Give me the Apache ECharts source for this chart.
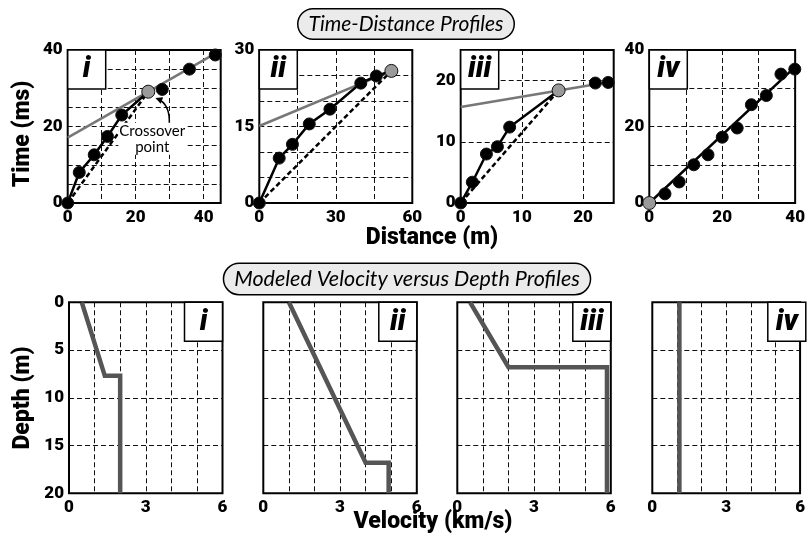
<!DOCTYPE html>
<html>
<head>
<meta charset="utf-8">
<script src="https://cdn.jsdelivr.net/npm/echarts@6/dist/echarts.min.js"></script>
<style>
  html, body { margin: 0; background: #fff; }
  #chart { width: 808px; height: 539px; }
</style>
</head>
<body>
<div id="chart"></div>
<script>
// ---- time-distance picks (distance in m, time in ms) ----
// panel i
var distI = [0, 3.4, 7.8, 11.7, 15.9];
var timeI = [0, 8.0, 12.6, 17.4, 23.0];
var distIRefr = [27.8, 35.8, 43.4];
var timeIRefr = [29.7, 35.0, 38.7];
var crossI = [23.7, 29.1];
var headDistI = [0, 44];
var headTimeI = [17.1, 39.4];
// panel ii
var distII = [0, 7.8, 13.0, 19.6, 27.7, 39.8, 45.9];
var timeII = [0, 8.8, 11.5, 15.5, 18.4, 23.5, 24.9];
var crossII = [51.8, 25.9];
var headDistII = [0, 51.8];
var headTimeII = [15.1, 25.9];
// panel iii
var distIII = [0, 1.9, 4.2, 6.0, 8.0];
var timeIII = [0, 3.4, 8.0, 9.2, 12.4];
var distIIIRefr = [22.0, 24.1];
var timeIIIRefr = [19.6, 19.7];
var crossIII = [16.0, 18.4];
var headDistIII = [0, 25];
var headTimeIII = [15.7, 19.9];
// panel iv
var distIV = [4.3, 8.2, 12.2, 16.1, 20.0, 24.1, 28.0, 32.1, 36.1, 39.9];
var timeIV = [2.4, 5.5, 10.0, 12.6, 17.2, 19.6, 25.7, 28.1, 33.7, 35.0];
var originIV = [0, 0];
var fitDistIV = [0, 40];
var fitTimeIV = [0, 35.6];

// ---- modeled velocity (km/s) vs depth (m) ----
var velI = [0.5, 1.4, 2.0, 2.0];
var depI = [0, 7.7, 7.7, 20];
var velII = [1.0, 4.0, 4.9, 4.9];
var depII = [0, 16.8, 16.8, 20];
var velIII = [0.5, 2.0, 5.85, 5.85];
var depIII = [0, 6.8, 6.8, 20];
var velIV = [1.1, 1.1];
var depIV = [0, 20];

var panelNames = ['i', 'ii', 'iii', 'iv'];
// axis ranges: [max, grid interval, label step]
var tdX = [[45, 10, 20], [60, 15, 30], [25, 10, 10], [40, 10, 20]];
var tdY = [[40, 5, 20], [30, 5, 15], [25, 10, 10], [40, 10, 20]];
var vdX = [6, 1, 3];
var vdY = [20, 5, 5];

// layout
var FONT_I = 'Lato, "Open Sans", sans-serif';
var FONT_B = 'Roboto, "Open Sans", sans-serif';
var topLeft = [67.7, 259.3, 460.7, 649.3];
var botLeft = [69, 263.3, 457.3, 652.3];
var topY = 50, topH = 153, topW = 153;
var botY = 302.3, botH = 191, botW = 153.5;

function pairs(xs, ys) {
    return xs.map(function (x, i) { return [x, ys[i]]; });
}

function labelFmt(step, max) {
    return function (v) {
        return (Math.abs(v % step) < 1e-9 && v <= max) ? String(v) : '';
    };
}

var splitStyle = { show: true, showMinLine: false, showMaxLine: false,
    lineStyle: { color: '#111', width: 1, type: [5, 3] } };

function valueAxis(gridIndex, max, interval, step, showLabel, inverse, pos) {
    return {
        type: 'value', gridIndex: gridIndex, min: 0, max: max, interval: interval,
        inverse: !!inverse, position: pos,
        axisLine: { show: false }, axisTick: { show: false },
        splitLine: splitStyle,
        axisLabel: {
            show: showLabel, formatter: labelFmt(step, max), margin: pos === 'left' ? 5 : 6,
            color: '#000', fontFamily: FONT_B, fontWeight: 900, fontSize: 17,
            showMinLabel: true, showMaxLabel: true, hideOverlap: false
        }
    };
}

var grids = [], xAxes = [], yAxes = [], series = [];
for (var k = 0; k < 4; k++) {
    grids.push({ left: topLeft[k], top: topY, width: topW, height: topH, show: true,
        borderColor: '#000', borderWidth: 2, backgroundColor: '#fff' });
    xAxes.push(valueAxis(k, tdX[k][0], tdX[k][1], tdX[k][2], true, false, 'bottom'));
    yAxes.push(valueAxis(k, tdY[k][0], tdY[k][1], tdY[k][2], true, false, 'left'));
}
for (k = 0; k < 4; k++) {
    grids.push({ left: botLeft[k], top: botY, width: botW, height: botH, show: true,
        borderColor: '#000', borderWidth: 2, backgroundColor: '#fff' });
    xAxes.push(valueAxis(4 + k, vdX[0], vdX[1], vdX[2], true, false, 'bottom'));
    yAxes.push(valueAxis(4 + k, vdY[0], vdY[1], vdY[2], k === 0, true, 'left'));
}

function line(g, data, color, type, width, z) {
    return { type: 'line', xAxisIndex: g, yAxisIndex: g, data: data, symbol: 'none',
        clip: false, silent: true, z: z || 3,
        lineStyle: { color: color, width: width || 2.5, type: type || 'solid', join: 'miter' } };
}
function dots(g, data, fill, size) {
    return { type: 'scatter', xAxisIndex: g, yAxisIndex: g, data: data, clip: false,
        symbolSize: size || 12, silent: true, z: 5,
        itemStyle: { color: fill, borderColor: '#111', borderWidth: 1, opacity: 1 } };
}

// panel i
series.push(line(0, pairs(headDistI, headTimeI), '#777'));
series.push(line(0, [[0, 0], crossI], '#000', [5, 3]));
series.push(line(0, pairs(distI, timeI).concat([crossI]), '#000'));
series.push(dots(0, pairs(distI, timeI).concat(pairs(distIRefr, timeIRefr)), '#000'));
series.push(dots(0, [crossI], '#9a9a9a', 13));
// panel ii
series.push(line(1, pairs(headDistII, headTimeII), '#777'));
series.push(line(1, [[0, 0], crossII], '#000', [5, 3]));
series.push(line(1, pairs(distII, timeII).concat([crossII]), '#000'));
series.push(dots(1, pairs(distII, timeII), '#000'));
series.push(dots(1, [crossII], '#9a9a9a', 13));
// panel iii
series.push(line(2, pairs(headDistIII, headTimeIII), '#777'));
series.push(line(2, [[0, 0], crossIII], '#000', [5, 3]));
series.push(line(2, pairs(distIII, timeIII).concat([crossIII]), '#000'));
series.push(dots(2, pairs(distIII, timeIII).concat(pairs(distIIIRefr, timeIIIRefr)), '#000'));
series.push(dots(2, [crossIII], '#9a9a9a', 13));
// panel iv
series.push(line(3, pairs(fitDistIV, fitTimeIV), '#000'));
series.push(dots(3, pairs(distIV, timeIV), '#000'));
series.push(dots(3, [originIV], '#9a9a9a', 13));
// velocity profiles
[[velI, depI], [velII, depII], [velIII, depIII], [velIV, depIV]].forEach(function (p, i) {
    series.push(line(4 + i, pairs(p[0], p[1]), '#555', 'solid', 4.5));
});

function textEl(txt, x, y, font, extra) {
    var st = { text: txt, x: x, y: y, font: font, fill: '#000', align: 'center', verticalAlign: 'middle' };
    for (var key in extra) st[key] = extra[key];
    return { type: 'text', style: st, z: 50 };
}

var boxStyle = { backgroundColor: '#ebebeb', borderColor: '#000', borderWidth: 1.5, borderRadius: 16, padding: [4, 10, 4, 10] };
var graphics = [];
graphics.push(textEl('Time-Distance Profiles', 406, 24, 'italic 21px ' + FONT_I, boxStyle));
graphics.push(textEl('Modeled Velocity versus Depth Profiles', 407, 279, 'italic 21.5px ' + FONT_I, boxStyle));
graphics.push(textEl('Distance (m)', 432, 238, '900 23px ' + FONT_B, {}));
graphics.push(textEl('Velocity (km/s)', 433, 522, '900 23px ' + FONT_B, {}));
var tl = textEl('Time (ms)', 0, 0, '900 23px ' + FONT_B, {});
tl.x = 23; tl.y = 134; tl.rotation = Math.PI / 2;
graphics.push(tl);
var dl = textEl('Depth (m)', 0, 0, '900 23px ' + FONT_B, {});
dl.x = 23; dl.y = 398; dl.rotation = Math.PI / 2;
graphics.push(dl);

// panel tags
for (k = 0; k < 4; k++) {
    var boxes = [[topLeft[k], topY], [botLeft[k] + botW - 38, botY]];
    boxes.forEach(function (b) {
        graphics.push({ type: 'rect', shape: { x: b[0], y: b[1], width: 38, height: 39 }, z: 40,
            style: { fill: '#fff', stroke: '#000', lineWidth: 1.5 } });
        graphics.push(textEl(panelNames[k], b[0] + 19, b[1] + 20, 'italic 900 29px ' + FONT_B, {}));
    });
}

var chart = echarts.init(document.getElementById('chart'), null, { renderer: 'canvas' });
chart.setOption({
    animation: false,
    backgroundColor: '#fff',
    grid: grids, xAxis: xAxes, yAxis: yAxes, series: series,
    graphic: graphics
});

// crossover annotation, anchored on the crossover pick
var p = chart.convertToPixel({ gridIndex: 0 }, crossI);
var sx = p[0] + 21, sy = p[1] + 33, cx = p[0] + 22, cy = p[1] + 12, ex = p[0] + 9, ey = p[1] + 7;
var ang = Math.atan2(ey - cy, ex - cx);
var hl = 7, hw = 3.5;
var tip = [ex + Math.cos(ang) * 2, ey + Math.sin(ang) * 2];
var baseX = tip[0] - Math.cos(ang) * hl, baseY = tip[1] - Math.sin(ang) * hl;
graphics.push({ type: 'bezierCurve', z: 45,
    shape: { x1: sx, y1: sy, x2: ex, y2: ey, cpx1: cx, cpy1: cy },
    style: { stroke: '#000', lineWidth: 1.5, fill: null } });
graphics.push({ type: 'polygon', z: 45,
    shape: { points: [tip, [baseX - Math.sin(ang) * hw, baseY + Math.cos(ang) * hw],
        [baseX + Math.sin(ang) * hw, baseY - Math.cos(ang) * hw]] },
    style: { fill: '#000' } });
graphics.push(textEl('Crossover\npoint', p[0] + 4, p[1] + 47, '15px ' + FONT_I,
    { backgroundColor: '#fff', padding: [0, 1], lineHeight: 16 }));

chart.setOption({ graphic: graphics }, { replaceMerge: ['graphic'] });
</script>
</body>
</html>
